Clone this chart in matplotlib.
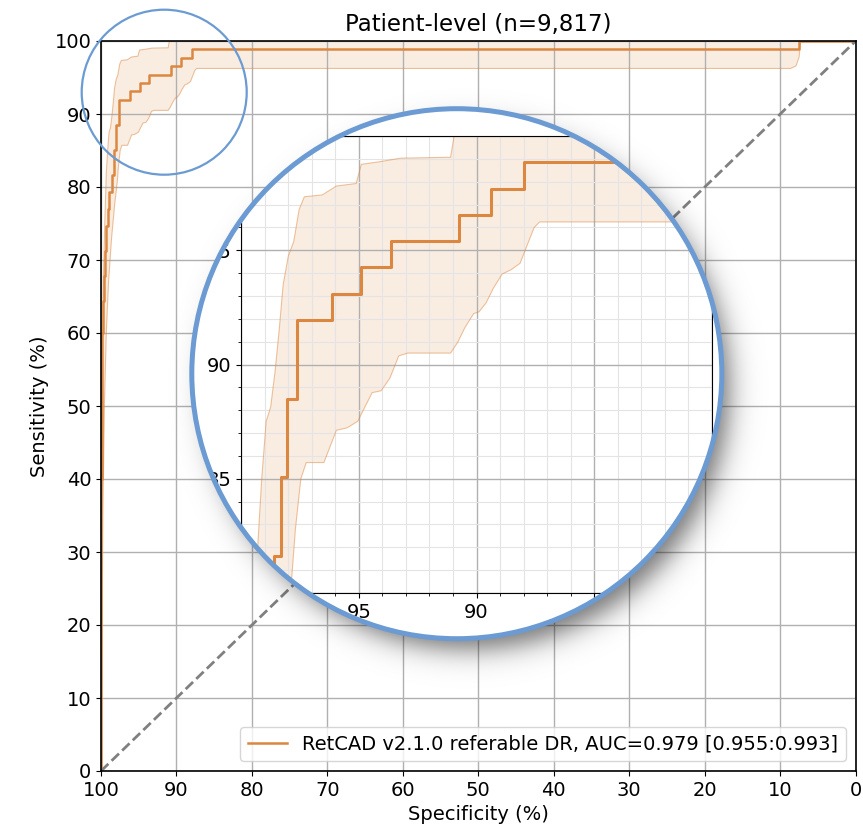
import numpy as np
import matplotlib
matplotlib.use("Agg")
import matplotlib.pyplot as plt
from matplotlib.patches import Circle
from matplotlib.ticker import MultipleLocator

# --------------------
# ROC curve (specificity %, sensitivity %), step points
roc_spec = [100.0, 100.0, 99.98, 99.95, 99.9, 99.85, 99.75, 99.6, 99.45, 99.3, 99.1, 98.9,
            98.59, 98.29, 98.06, 97.61, 96.13, 94.89, 93.65, 90.73, 89.40, 88.00, 7.5, 0.0]
roc_sens = [0.0, 10.0, 25.0, 40.0, 52.0, 60.0, 64.4, 67.8, 71.3, 74.7, 77.0, 79.3,
            81.61, 85.06, 88.51, 91.95, 93.10, 94.25, 95.40, 96.55, 97.70, 98.85, 100.0, 100.0]

# Confidence band, upper edge
upper_spec = [100.0, 99.95, 99.85, 99.7, 99.5, 99.30, 99.12, 98.93, 98.74, 98.55, 98.37, 98.21,
              97.99, 97.76, 97.53, 97.31, 96.55, 95.95, 95.11, 94.89, 94.13, 93.22, 91.10, 90.95, 0.0]
upper_sens = [0.0, 30.0, 55.0, 67.0, 75.0, 81.86, 85.0, 87.52, 88.14, 89.72, 91.6, 93.49,
              94.75, 95.38, 96.79, 97.34, 97.42, 97.81, 97.92, 98.76, 98.87, 99.03, 99.07, 100.0, 100.0]

# Confidence band, lower edge
lower_spec = [100.0, 99.9, 99.75, 99.55, 99.3, 99.0, 98.6, 98.2, 97.84, 97.69, 97.46, 97.23,
              96.48, 95.95, 95.49, 95.04, 94.74, 94.43, 94.05, 93.68, 93.30, 92.92, 91.10, 90.80,
              90.50, 90.12, 89.89, 89.59, 89.29, 88.91, 88.53, 88.15, 87.85, 87.55, 87.32,
              8.6, 7.9, 7.5, 7.3, 0.0]
lower_sens = [0.0, 15.0, 35.0, 50.0, 60.0, 67.0, 73.0, 77.5, 80.75, 82.8, 85.0, 85.71,
              85.71, 87.12, 87.23, 87.52, 88.14, 88.77, 88.85, 89.4, 90.38, 90.5, 90.5, 90.97,
              91.6, 92.23, 92.31, 92.70, 93.33, 93.96, 94.15, 94.43, 95.22, 96.0, 96.24,
              96.24, 96.6, 97.8, 100.0, 100.0]

ticks = list(range(0, 101, 10))
title = "Patient-level (n=9,817)"
label = "RetCAD v2.1.0 referable DR, AUC=0.979 [0.955:0.993]"

orange = "#dc8740"
blue = "#6b9bd2"

plt.rcParams["font.size"] = 14

# --------------------

W, H = 863, 831
band_x = np.concatenate([upper_spec, lower_spec[::-1]])
band_y = np.concatenate([upper_sens, lower_sens[::-1]])


def draw_roc(a, lw):
    a.fill(band_x, band_y, color=orange, alpha=0.15, lw=0)
    a.plot(upper_spec, upper_sens, color=orange, alpha=0.5, lw=0.8)
    a.plot(lower_spec, lower_sens, color=orange, alpha=0.5, lw=0.8)
    a.step(roc_spec, roc_sens, where="post", color=orange, lw=lw, label=label)


fig = plt.figure(figsize=(W / 100, H / 100), dpi=100)
ax = fig.add_axes([101 / W, 1 - 771 / H, 754.7 / W, 730 / H], zorder=0)

draw_roc(ax, 1.8)
ax.plot([100, 0], [0, 100], color="gray", ls="--", lw=2)

ax.set_xlim(100, 0)
ax.set_ylim(0, 100)
ax.set_xticks(ticks)
ax.set_yticks(ticks)
ax.grid(color="#b0b0b0", lw=1)
ax.set_xlabel("Specificity (%)")
ax.set_ylabel("Sensitivity (%)")
ax.set_title(title, fontsize=16.5, pad=7)
for s in ax.spines.values():
    s.set_linewidth(1.2)
ax.legend(loc="lower right", fontsize=14)

# magnifier circle geometry (pixels)
cx, cy, r = 456.8, 373.7, 265.0

# zoomed inset, rendered on its own and cut to the circle
fig2 = plt.figure(figsize=(W / 100, H / 100), dpi=100)
fig2.patch.set_alpha(0)
axi = fig2.add_axes([241 / W, 1 - 593 / H, 471 / W, 457 / H])
axi.patch.set_alpha(0)
draw_roc(axi, 2.2)
axi.set_xlim(100, 80)
axi.set_ylim(80, 100)
axi.xaxis.set_major_locator(MultipleLocator(5))
axi.yaxis.set_major_locator(MultipleLocator(5))
axi.xaxis.set_minor_locator(MultipleLocator(1))
axi.yaxis.set_minor_locator(MultipleLocator(1))
axi.grid(which="major", color="#b0b0b0", lw=1)
axi.grid(which="minor", color="#e4e4e4", lw=0.8)
axi.tick_params(labelsize=14)
fig2.canvas.draw()
inset_img = np.asarray(fig2.canvas.buffer_rgba()).astype(float) / 255
plt.close(fig2)

py, px = np.mgrid[0:H, 0:W]
dist = np.hypot(px + 0.5 - cx, py + 0.5 - cy)
inset_img[..., 3] *= np.clip(r - dist + 0.5, 0, 1)

# overlay in pixel coords: shadow, white disk, inset picture
ov = fig.add_axes([0, 0, 1, 1], zorder=1)
ov.axis("off")
ov.patch.set_alpha(0)

d = np.hypot(px - (cx + 11), py - (cy + 14))
shadow = np.zeros((H, W, 4))
shadow[..., 3] = 0.55 / (1 + np.exp((d - r + 4) / 8.0))
ov.imshow(shadow, extent=[0, W, H, 0], interpolation="bilinear")
ov.add_patch(Circle((cx, cy), r, fc="white", ec="none"))
ov.imshow(inset_img, extent=[0, W, H, 0], interpolation="nearest", zorder=3)
ov.add_patch(Circle((cx, cy), r, fill=False, ec=blue, lw=3.6, zorder=4))
ov.add_patch(Circle((164.2, 92.2), 82.5, fill=False, ec=blue, lw=1.6, zorder=4))
ov.set_xlim(0, W)
ov.set_ylim(H, 0)

fig.savefig("out.png", dpi=100)
